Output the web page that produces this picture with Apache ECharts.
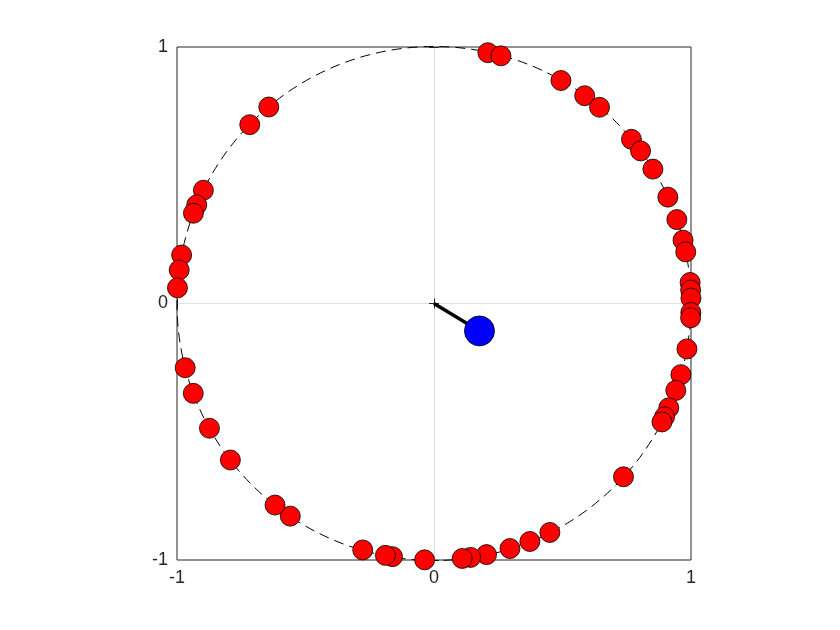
<!DOCTYPE html>
<html>
<head>
<meta charset="utf-8">
<script src="https://cdn.jsdelivr.net/npm/echarts@6/dist/echarts.min.js"></script>
<style>
  html, body { margin: 0; padding: 0; background: #fff; }
  #chart { width: 840px; height: 630px; }
</style>
</head>
<body>
<div id="chart"></div>
<script>
// sample angles on the unit circle, degrees
const angles = [
  77.9, 74.9, 60.4, 54.1, 49.9, 39.8, 36.5, 31.6, 24.5, 19.1, 14.3, 11.6,
  4.7, 3.0, 1.2, -2.0, -3.2, -10.2, -16.1, -19.8, -24.0, -26.2, -27.5,
  -42.5, -63.2, -68.1, -72.8, -78.2, -81.8, -83.7, -92.1, -99.3, -100.9,
  -106.1, -124.0, -128.2, -142.4, -150.9, -159.5, -165.5,
  130.0, 135.8, 153.8, 157.4, 159.4, 169.1, 172.5, 176.5
];
// mean resultant vector
const meanVec = [0.177, -0.107];
const ticks = [-1, 0, 1];

const points = angles.map((a) => {
  const r = (a * Math.PI) / 180;
  return [Math.cos(r), Math.sin(r)];
});

const chart = echarts.init(document.getElementById("chart"));

const axisFont = { color: "#262626", fontSize: 18, fontFamily: "Liberation Sans, Arial, sans-serif" };

const baseAxis = {
  min: -1,
  max: 1,
  interval: 1,
  axisLine: { show: false },
  axisTick: { show: true, inside: true, length: 5, lineStyle: { color: "#262626" } },
  splitLine: { show: true, showMinLine: false, showMaxLine: false, lineStyle: { color: "#e0e0e0", width: 1 } },
  axisLabel: Object.assign({ margin: 9, formatter: (v) => (ticks.includes(v) ? String(v) : "") }, axisFont),
};

chart.setOption({
  animation: false,
  backgroundColor: "#fff",
  grid: {
    left: 177,
    top: 47,
    width: 514,
    height: 513,
    show: true,
    borderColor: "#262626",
    borderWidth: 1,
    backgroundColor: "transparent",
  },
  xAxis: [
    Object.assign({}, baseAxis, { type: "value", position: "bottom" }),
    Object.assign({}, baseAxis, { type: "value", position: "top", axisLabel: { show: false }, splitLine: { show: false } }),
  ],
  yAxis: [
    Object.assign({}, baseAxis, { type: "value", position: "left" }),
    Object.assign({}, baseAxis, { type: "value", position: "right", axisLabel: { show: false }, splitLine: { show: false } }),
  ],
  series: [
    {
      // dashed unit circle
      type: "custom",
      silent: true,
      data: [[0, 0]],
      renderItem: (params, api) => {
        const c = api.coord([0, 0]);
        const r = api.size([1, 1])[0];
        return {
          type: "circle",
          shape: { cx: c[0], cy: c[1], r: r },
          style: { fill: null, stroke: "#000", lineWidth: 1, lineDash: [10, 6] },
        };
      },
      clip: false,
      z: 1,
    },
    {
      type: "scatter",
      data: points,
      symbol: "circle",
      symbolSize: 20,
      itemStyle: { color: "#ff0000", borderColor: "#000", borderWidth: 0.8, opacity: 1 },
      z: 2,
    },
    {
      type: "line",
      data: [[0, 0], meanVec],
      showSymbol: false,
      symbol: "none",
      lineStyle: { color: "#000", width: 3.5 },
      z: 3,
    },
    {
      type: "scatter",
      data: [meanVec],
      symbol: "circle",
      symbolSize: 30,
      itemStyle: { color: "#0000ff", borderColor: "#000", borderWidth: 0.8, opacity: 1 },
      z: 4,
    },
  ],
});
</script>
</body>
</html>
